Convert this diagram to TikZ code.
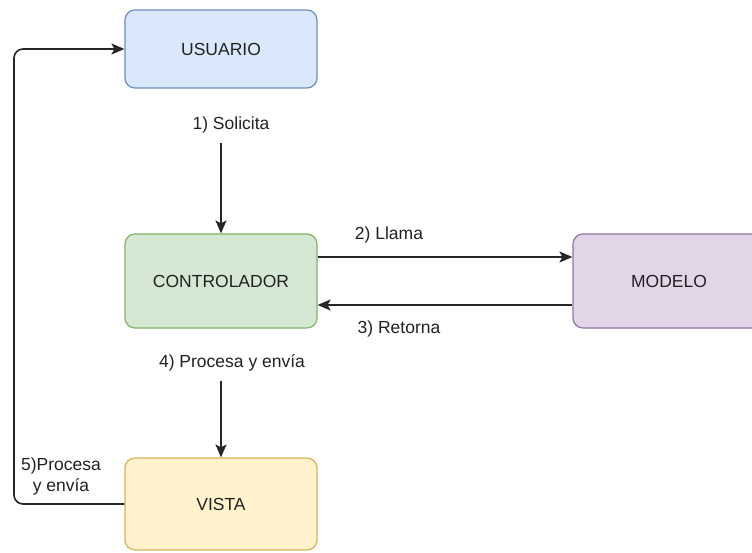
\documentclass[tikz,border=0pt]{standalone}
\usepackage{fontspec}
\setmainfont{Liberation Sans}
\usepackage{tikz}
\usetikzlibrary{arrows.meta}

\definecolor{azulfondo}{HTML}{DAE8FC}
\definecolor{azulborde}{HTML}{6C8EBF}
\definecolor{verdefondo}{HTML}{D5E8D4}
\definecolor{verdeborde}{HTML}{82B366}
\definecolor{moradofondo}{HTML}{E1D5E7}
\definecolor{moradoborde}{HTML}{9673A6}
\definecolor{amarillofondo}{HTML}{FFF2CC}
\definecolor{amarilloborde}{HTML}{D6B656}
\definecolor{texto}{HTML}{222222}

\tikzset{
    caja/.style={rectangle, rounded corners=10pt, line width=1.2pt,
        minimum width=192pt, minimum height=92pt, text=texto,
        font=\fontsize{17.5}{20}\selectfont},
    etiqueta/.style={text=texto, font=\fontsize{17.5}{21}\selectfont, inner sep=1pt},
    flecha/.style={-{Stealth[length=13pt,width=11pt,inset=3pt]}, line width=1.6pt, black!85}
}

\begin{document}
\begin{tikzpicture}[x=1pt,y=-1pt]
        \path[use as bounding box, clip] (0,0) rectangle (752,552);
        \fill[white] (0,0) rectangle (752,552);

        % cajas
        \node[caja, fill=azulfondo, draw=azulborde, minimum height=78pt] (usuario) at (221,49) {USUARIO};
        \node[caja, fill=verdefondo, draw=verdeborde, minimum height=94pt] (controlador) at (221,281) {CONTROLADOR};
        \node[caja, fill=moradofondo, draw=moradoborde, minimum height=94pt] (modelo) at (669,281) {MODELO};
        \node[caja, fill=amarillofondo, draw=amarilloborde] (vista) at (221,504) {VISTA};

        % etiquetas
        \node[etiqueta] (l1) at (231,125) {1) Solicita};
        \node[etiqueta] (l2) at (389,235) {2) Llama};
        \node[etiqueta] (l3) at (399,329) {3) Retorna};
        \node[etiqueta] (l4) at (232,363) {4) Procesa y envía};
        \node[etiqueta, align=center] (l5) at (61,476) {5)Procesa\\y envía};

        % flechas
        \draw[flecha] (usuario.south |- l1.south) ++(0,9) -- (controlador.north);
        \draw[flecha] ([yshift=24pt]controlador.east) -- ([yshift=24pt]modelo.west);
        \draw[flecha] ([yshift=-24pt]modelo.west) -- ([yshift=-24pt]controlador.east);
        \draw[flecha] (controlador.south |- l4.south) ++(0,9) -- (vista.north);
        \draw[flecha, rounded corners=9pt] (vista.west) -| (14,49) -- (usuario.west);

    \end{tikzpicture}
\end{document}
